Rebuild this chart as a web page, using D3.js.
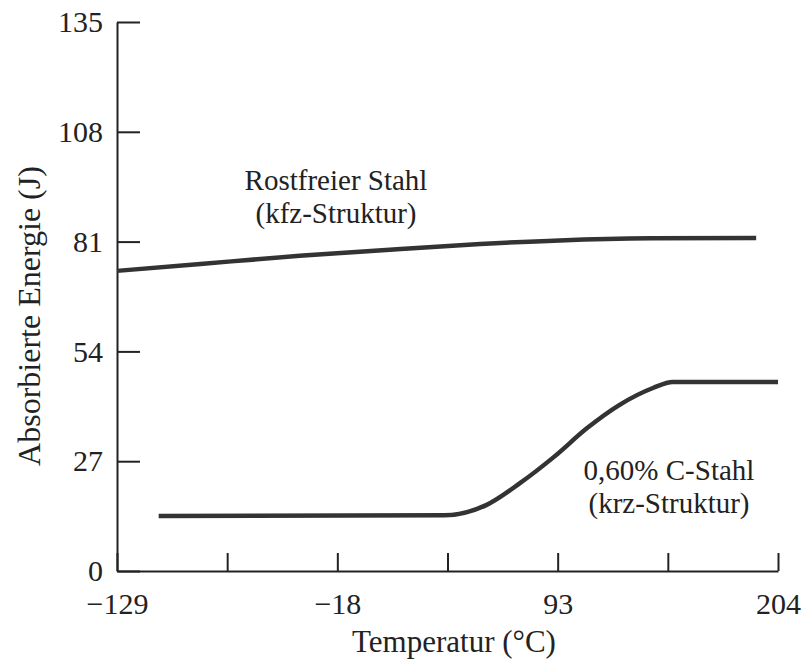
<!DOCTYPE html>
<html>
<head>
<meta charset="utf-8">
<script src="https://cdn.jsdelivr.net/npm/d3@7"></script>
<style>
  body { margin: 0; background: #fff; }
  svg text { font-family: "Liberation Serif", "Times New Roman", serif; fill: #222; }
</style>
</head>
<body>
<svg id="chart" width="805" height="664"></svg>
<script>
// tick values of both axes
const xTicks = [-129, -73.5, -18, 37.5, 93, 148.5, 204];
const xLabels = ['−129', '', '−18', '', '93', '', '204'];
const yTicks = [0, 27, 54, 81, 108, 135];

// stainless steel (fcc) curve
const steelTemp = [-129, -87, -37, 14, 54, 94, 140, 193];
const steelEnergy = [73.8, 75.5, 77.5, 79.2, 80.4, 81.3, 81.8, 81.9];

// 0.60 % carbon steel (bcc) curve
const carbonTemp = [-108, 36, 57, 74, 91, 108, 124, 141, 151, 204];
const carbonEnergy = [13.5, 13.7, 16.2, 21.6, 28.0, 35.2, 40.8, 45.0, 46.5, 46.5];

const svg = d3.select('#chart');
const plotLeft = 117, plotRight = 778, plotTop = 22, plotBottom = 571;

const x = d3.scaleLinear().domain([-129, 204]).range([plotLeft, plotRight]);
const y = d3.scaleLinear().domain([0, 135]).range([plotBottom, plotTop]);

// axes, ticks pointing inward
const xAxis = d3.axisBottom(x)
  .tickValues(xTicks)
  .tickSizeInner(-18)
  .tickSizeOuter(0)
  .tickFormat((d, i) => xLabels[i]);

const yAxis = d3.axisLeft(y)
  .tickValues(yTicks)
  .tickSizeInner(-23)
  .tickSizeOuter(0);

const gx = svg.append('g')
  .attr('transform', `translate(0, ${plotBottom})`)
  .call(xAxis);

const gy = svg.append('g')
  .attr('transform', `translate(${plotLeft}, 0)`)
  .call(yAxis);

[gx, gy].forEach(g => {
  g.select('.domain').attr('stroke', '#222').attr('stroke-width', 2);
  g.selectAll('.tick line').attr('stroke', '#222').attr('stroke-width', 2);
  g.selectAll('.tick text')
    .attr('font-size', 30)
    .attr('font-family', '"Liberation Serif", serif')
    .attr('fill', '#222');
});

gx.selectAll('.tick text').attr('y', 22);
gy.selectAll('.tick text').attr('x', -14);

// curves
const line = d3.line()
  .x(d => x(d[0]))
  .y(d => y(d[1]))
  .curve(d3.curveMonotoneX);

const curves = [
  d3.zip(steelTemp, steelEnergy),
  d3.zip(carbonTemp, carbonEnergy)
];

svg.append('g')
  .selectAll('path')
  .data(curves)
  .enter()
  .append('path')
  .attr('d', line)
  .attr('fill', 'none')
  .attr('stroke', '#333')
  .attr('stroke-width', 4.5)
  .attr('stroke-linecap', 'butt');

// curve labels
const labels = svg.append('g')
  .attr('font-size', 29)
  .attr('text-anchor', 'middle');

labels.append('text').attr('x', 336).attr('y', 190).text('Rostfreier Stahl');
labels.append('text').attr('x', 336).attr('y', 223).text('(kfz-Struktur)');
labels.append('text').attr('x', 669).attr('y', 480).text('0,60% C-Stahl');
labels.append('text').attr('x', 669).attr('y', 513).text('(krz-Struktur)');

// axis titles
svg.append('text')
  .attr('x', 454)
  .attr('y', 652)
  .attr('font-size', 31)
  .attr('text-anchor', 'middle')
  .text('Temperatur (°C)');

svg.append('text')
  .attr('transform', 'translate(40, 316) rotate(-90)')
  .attr('font-size', 32)
  .attr('text-anchor', 'middle')
  .text('Absorbierte Energie (J)');
</script>
</body>
</html>
